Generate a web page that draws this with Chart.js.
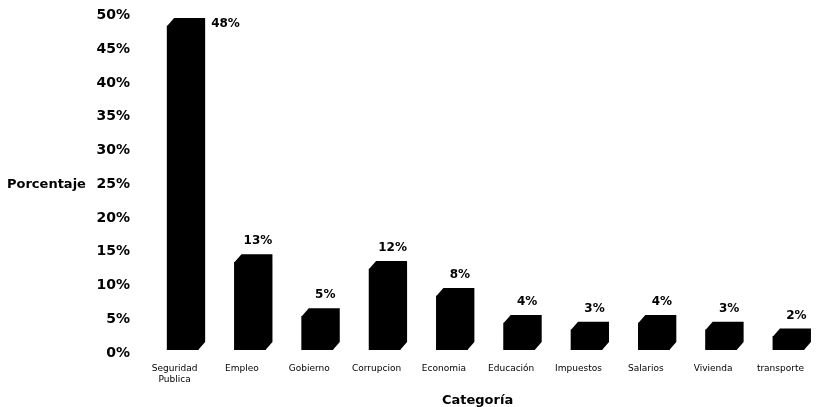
<!DOCTYPE html>
<html>
<head>
<meta charset="utf-8">
<script src="https://cdn.jsdelivr.net/npm/chart.js@4.4.1/dist/chart.umd.min.js"></script>
<style>
  html, body { margin: 0; padding: 0; background: #fff; overflow: hidden; }
  canvas { display: block; }
</style>
</head>
<body>
<canvas id="c" width="817" height="407"></canvas>
<script>
const categories = [["Seguridad", "Publica"], "Empleo", "Gobierno", "Corrupcion", "Economia", "Educación", "Impuestos", "Salarios", "Vivienda", "transporte"];
const porcentajes = [48, 13, 5, 12, 8, 4, 3, 4, 3, 2];
const yTicks = [0, 5, 10, 15, 20, 25, 30, 35, 40, 45, 50];
const yAxisTitle = "Porcentaje";
const xAxisTitle = "Categoría";

const FONT = "'DejaVu Sans', sans-serif";
const SHIFT = 8, DX = 7, DY = -8;

const bars3d = {
  id: 'bars3d',
  beforeDatasetsDraw(chart) {
    chart.ctx.save();
    chart.ctx.translate(SHIFT, 0);
  },
  afterDatasetsDraw(chart) {
    const ctx = chart.ctx;
    const meta = chart.getDatasetMeta(0);
    ctx.fillStyle = '#000';
    meta.data.forEach(bar => {
      const L = bar.x - bar.width / 2, R = bar.x + bar.width / 2;
      const top = bar.y, base = bar.base;
      ctx.beginPath();
      ctx.moveTo(L, base);
      ctx.lineTo(L, top);
      ctx.lineTo(L + DX, top + DY);
      ctx.lineTo(R + DX, top + DY);
      ctx.lineTo(R + DX, base + DY);
      ctx.lineTo(R, base);
      ctx.closePath();
      ctx.fill();
    });
    ctx.restore();

    // value labels
    ctx.save();
    ctx.font = "bold 12px " + FONT;
    ctx.fillStyle = '#000';
    ctx.textBaseline = 'middle';
    meta.data.forEach((bar, i) => {
      const txt = porcentajes[i] + '%';
      const cx = bar.x + 16;
      let y = bar.y - 21;
      if (y - 6 < chart.chartArea.top) {
        ctx.textAlign = 'left';
        ctx.fillText(txt, bar.x + SHIFT + bar.width / 2 + DX + 6, bar.y - 2.5);
      } else {
        ctx.textAlign = 'center';
        ctx.fillText(txt, cx, y);
      }
    });
    // y axis title, horizontal
    const ys = chart.scales.y;
    ctx.font = "bold 13px " + FONT;
    ctx.textAlign = 'left';
    ctx.fillText(yAxisTitle, 7, ys.getPixelForValue(25) + 3);
    ctx.restore();
  }
};

new Chart(document.getElementById('c'), {
  type: 'bar',
  data: {
    labels: categories,
    datasets: [{
      data: porcentajes,
      backgroundColor: '#000',
      borderWidth: 0,
      barThickness: 31
    }]
  },
  options: {
    responsive: false,
    animation: false,
    devicePixelRatio: 1,
    layout: { padding: { top: 12.5, right: 0, left: 0, bottom: 0 } },
    plugins: { legend: { display: false }, tooltip: { enabled: false } },
    scales: {
      x: {
        grid: { display: false, drawTicks: false },
        border: { display: false },
        ticks: { color: '#000', font: { family: FONT, size: 9 }, padding: 13, maxRotation: 0, autoSkip: false },
        title: { display: true, text: xAxisTitle, color: '#000', font: { family: FONT, size: 13, weight: 'bold', lineHeight: 1 }, padding: { top: 0, bottom: 0 } },
        afterFit(scale) { scale.height = 57; }
      },
      y: {
        min: 0, max: 50,
        grid: { display: false, drawTicks: false },
        border: { display: false },
        afterBuildTicks(scale) { scale.ticks = yTicks.map(v => ({ value: v })); },
        ticks: {
          color: '#000',
          font: { family: FONT, size: 14, weight: 'bold' },
          padding: 11,
          labelOffset: 3,
          callback: v => v + '%'
        },
        afterFit(scale) { scale.width = 141; scale.paddingTop = 0; scale.paddingBottom = 0; }
      }
    }
  },
  plugins: [bars3d]
});
</script>
</body>
</html>
